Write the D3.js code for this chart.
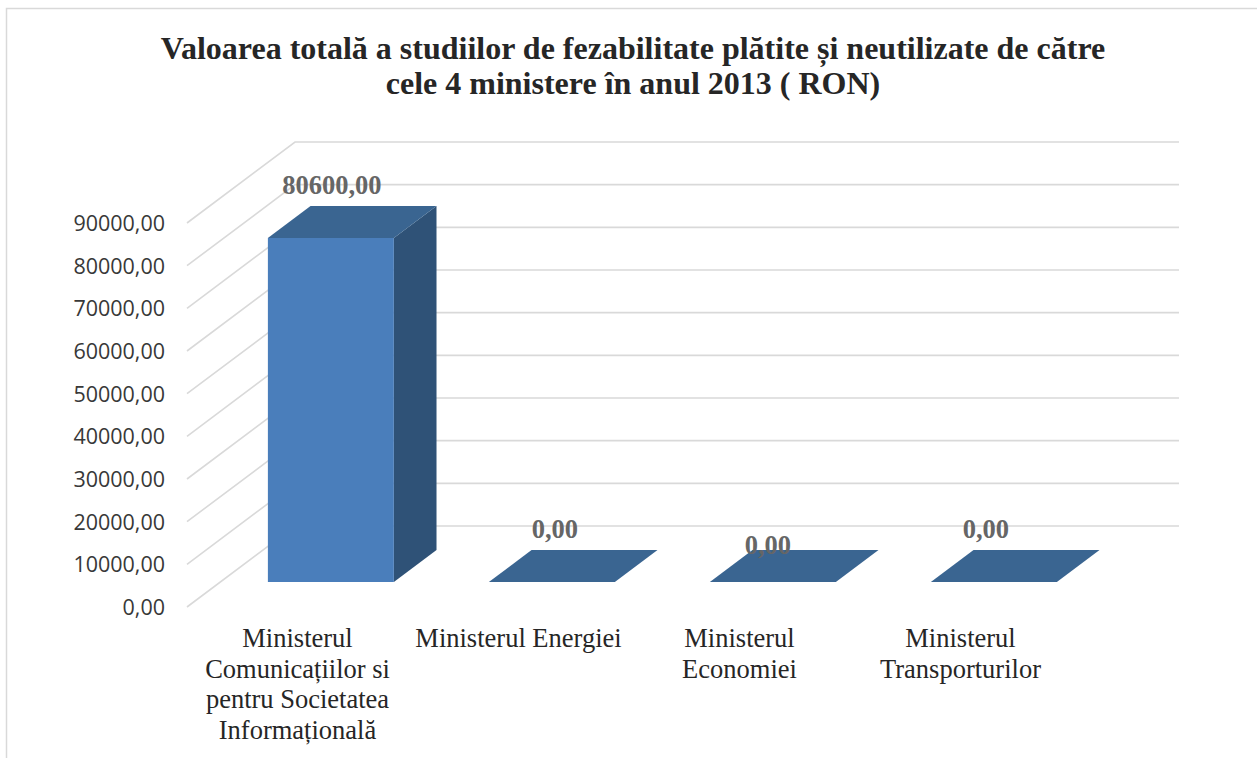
<!DOCTYPE html>
<html>
<head>
<meta charset="utf-8">
<script src="https://cdn.jsdelivr.net/npm/d3@7"></script>
<style>
  html, body { margin: 0; padding: 0; background: #fff; }
  svg { display: block; }
</style>
</head>
<body>
<svg id="chart" width="1257" height="758"></svg>
<script>
// ---- data ----
const titleLines = [
  "Valoarea totală a studiilor de fezabilitate plătite și neutilizate de către",
  "cele 4 ministere în anul 2013 ( RON)"
];
const categories = [
  "Ministerul Comunicațiilor si pentru Societatea Informațională",
  "Ministerul Energiei",
  "Ministerul Economiei",
  "Ministerul Transporturilor"
];
const categoryLines = [
  ["Ministerul", "Comunicațiilor si", "pentru Societatea", "Informațională"],
  ["Ministerul Energiei"],
  ["Ministerul", "Economiei"],
  ["Ministerul", "Transporturilor"]
];
const values = [80600, 0, 0, 0];
const valueLabels = ["80600,00", "0,00", "0,00", "0,00"];
const yTicks = [0, 10000, 20000, 30000, 40000, 50000, 60000, 70000, 80000, 90000];
const yTickLabels = ["0,00", "10000,00", "20000,00", "30000,00", "40000,00",
                     "50000,00", "60000,00", "70000,00", "80000,00", "90000,00"];

// ---- layout ----
const svg = d3.select("#chart");
const W = 1257, H = 758;
const depth = { dx: 108, dy: -81 };      // 3D depth vector (front -> back wall)
const barDepth = [0.309, 0.704];         // bar occupies this slice of the depth
const labelNudge = [[1, 0], [3, 0], [-5, 16], [-8, 0]];

const x = d3.scaleBand().domain(categories).range([187, 1071])
  .paddingInner(0.43).paddingOuter(0.215);
const y = d3.scaleLinear().domain([0, 90000]).range([607, 223]);

function P(px, v, d) { return [px + d * depth.dx, y(v) + d * depth.dy]; }

// frame
svg.append("path")
  .attr("d", `M6.5,${H} L6.5,8.5 L${W},8.5`)
  .attr("fill", "none").attr("stroke", "#d9d9d9").attr("stroke-width", 1.5);

// title
svg.append("g").selectAll("text").data(titleLines).join("text")
  .attr("x", 633).attr("y", (d, i) => 59 + i * 35)
  .attr("text-anchor", "middle")
  .attr("font-family", "'Liberation Serif', 'Times New Roman', serif")
  .attr("font-weight", "bold").attr("font-size", 32)
  .attr("fill", "#262626")
  .text(d => d);

// gridlines: left wall diagonals + back wall horizontals
const xL = x.range()[0], xR = x.range()[1];
const grid = svg.append("g").attr("fill", "none").attr("stroke", "#d9d9d9").attr("stroke-width", 1.6);
grid.selectAll("path").data(yTicks).join("path")
  .attr("d", t => {
    const a = P(xL, t, 0), b = P(xL, t, 1), c = P(xR, t, 1);
    return d3.line()([a, b, c]);
  });

// y tick labels
svg.append("g").selectAll("text").data(yTicks).join("text")
  .attr("x", 165).attr("y", t => y(t) + 8)
  .attr("text-anchor", "end")
  .attr("font-family", "'Open Sans', 'Liberation Sans', sans-serif")
  .attr("font-size", 21.5).attr("fill", "#383838")
  .text((t, i) => yTickLabels[i]);

// bars
const cFront = "#4a7ebb", cTop = "#3a6591", cSide = "#2f5277";
const bars = svg.append("g");
categories.forEach((c, i) => {
  const v = values[i];
  const x0 = x(c), x1 = x(c) + x.bandwidth();
  const [df, db] = barDepth;
  const g = bars.append("g");
  if (v > 0) {
    // side face
    g.append("path").attr("fill", cSide)
      .attr("d", d3.line()([P(x1, v, df), P(x1, 0, df), P(x1, 0, db), P(x1, v, db)]) + "Z");
    // front face
    g.append("path").attr("fill", cFront)
      .attr("d", d3.line()([P(x0, v, df), P(x1, v, df), P(x1, 0, df), P(x0, 0, df)]) + "Z");
  }
  // top face
  g.append("path").attr("fill", cTop)
    .attr("d", d3.line()([P(x0, v, df), P(x1, v, df), P(x1, v, db), P(x0, v, db)]) + "Z");
});

// value labels
svg.append("g").selectAll("text").data(categories).join("text")
  .attr("x", (c, i) => P(x(c) + x.bandwidth() / 2, values[i], barDepth[0])[0] + labelNudge[i][0])
  .attr("y", (c, i) => P(0, values[i], barDepth[0])[1] - 44 + labelNudge[i][1])
  .attr("text-anchor", "middle")
  .attr("font-family", "'Liberation Serif', 'Times New Roman', serif")
  .attr("font-weight", "bold").attr("font-size", 26.5)
  .attr("fill", "#666666")
  .text((c, i) => valueLabels[i]);

// category labels
const cat = svg.append("g");
categories.forEach((c, i) => {
  const cx = x(c) + x.bandwidth() / 2;
  cat.append("text")
    .attr("text-anchor", "middle")
    .attr("font-family", "'Liberation Serif', 'Times New Roman', serif")
    .attr("font-size", 26.5).attr("fill", "#262626")
    .selectAll("tspan").data(categoryLines[i]).join("tspan")
    .attr("x", cx).attr("y", (d, j) => 647 + j * 30.5)
    .text(d => d);
});
</script>
</body>
</html>
